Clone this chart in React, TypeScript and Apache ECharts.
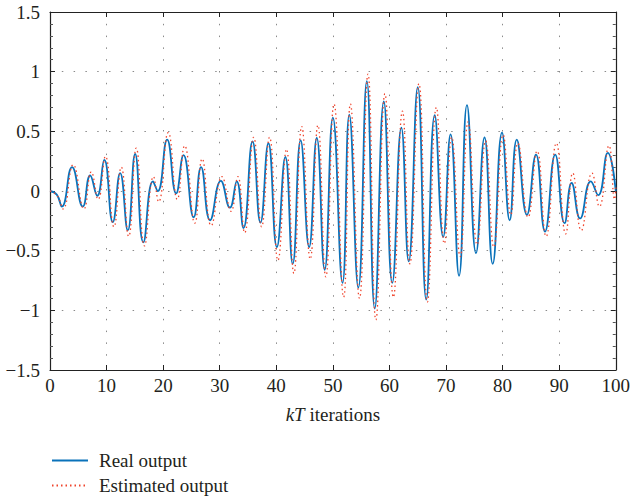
import React, { useEffect, useRef } from "react";
import * as echarts from "echarts";

// Real output: extrema
const xReal = [0, 1.2, 2.1, 3.9, 5.8, 7.1, 8.35, 9.6, 11.1, 12.4, 13.75, 15.05, 16.5, 18.2, 19.05, 20.7, 22.3, 23.6, 25.4, 26.7, 28.3, 30.2, 31.8, 33.0, 34.2, 35.8, 37.2, 38.6, 40.1, 41.6, 42.9, 44.3, 45.8, 47.15, 48.55, 50.0, 51.7, 52.9, 54.5, 56.0, 57.4, 59.0, 60.5, 62.1, 63.4, 65.0, 66.5, 68.0, 69.5, 70.8, 72.3, 73.7, 75.3, 76.8, 78.25, 79.9, 81.25, 82.5, 84.3, 85.9, 87.5, 89.3, 90.95, 92.2, 93.7, 95.6, 96.9, 98.6, 100];
const yReal = [0, -0.03, -0.13, 0.2, -0.13, 0.13, -0.04, 0.26, -0.26, 0.15, -0.33, 0.31, -0.43, 0.08, 0.0, 0.43, -0.02, 0.3, -0.22, 0.2, -0.245, 0.085, -0.14, 0.08, -0.31, 0.415, -0.265, 0.4, -0.47, 0.285, -0.61, 0.425, -0.47, 0.445, -0.66, 0.615, -0.77, 0.64, -0.81, 0.92, -0.985, 0.75, -0.77, 0.53, -0.59, 0.87, -0.91, 0.635, -0.385, 0.475, -0.71, 0.72, -0.52, 0.45, -0.61, 0.49, -0.245, 0.43, -0.2, 0.305, -0.34, 0.305, -0.27, 0.067, -0.23, 0.08, -0.035, 0.32, 0.0];

// Estimated output
const xEst = [0, 1.3, 2.3, 4.1, 6.0, 7.3, 8.5, 9.8, 11.3, 12.6, 13.9, 15.25, 16.7, 18.3, 19.2, 20.9, 22.5, 23.8, 25.6, 26.9, 28.5, 30.4, 32.0, 33.2, 34.4, 36.0, 37.4, 38.8, 40.3, 41.8, 43.1, 44.5, 46.0, 47.35, 48.75, 50.2, 51.9, 53.1, 54.7, 56.2, 57.6, 59.2, 60.7, 62.3, 63.6, 65.2, 66.7, 68.3, 69.7, 71.0, 72.5, 73.9, 75.5, 77.0, 78.45, 80.1, 81.45, 82.7, 84.5, 86.1, 87.7, 89.5, 91.15, 92.4, 93.9, 95.8, 97.1, 98.8, 99.8, 100];
const yEst = [0, -0.04, -0.15, 0.22, -0.15, 0.16, -0.07, 0.29, -0.3, 0.2, -0.38, 0.36, -0.46, 0.12, -0.09, 0.49, -0.07, 0.38, -0.27, 0.27, -0.29, 0.12, -0.17, 0.12, -0.35, 0.45, -0.3, 0.45, -0.58, 0.35, -0.69, 0.54, -0.57, 0.55, -0.72, 0.73, -0.89, 0.73, -0.9, 0.98, -1.08, 0.815, -0.89, 0.67, -0.61, 0.9, -0.93, 0.7, -0.44, 0.45, -0.55, 0.58, -0.45, 0.42, -0.47, 0.47, -0.2, 0.4, -0.22, 0.335, -0.38, 0.4, -0.36, 0.15, -0.33, 0.15, -0.13, 0.38, -0.07, 0.03];

const seriesNames = ["Real output", "Estimated output"];

const FONT = "Liberation Serif, DejaVu Serif, serif";
const TXT = "#231f20";
const FS = 19;

export default function App() {
  const ref = useRef<HTMLDivElement>(null);
  useEffect(() => {
    if (!ref.current) return;
    const chart = echarts.init(ref.current, undefined, { renderer: "svg" });
    const gridLine = { show: true, lineStyle: { color: "#8a8a8a", width: 1, type: [1.5, 10.3] as any } };
    const yFmt = (v: number) => (v < 0 ? "\u2212" + Math.abs(v) : String(v));
    const axLine = { show: true, onZero: false, lineStyle: { color: "#222", width: 1.2 } };
    const tick = { show: true, inside: true, length: 5, lineStyle: { color: "#222" } };
    chart.setOption({
      animation: false,
      backgroundColor: "#fff",
      textStyle: { fontFamily: FONT },
      grid: { left: 50, right: 15, top: 12, bottom: 130, containLabel: false },
      legend: {
        orient: "vertical",
        left: 46,
        top: 446,
        height: 60,
        itemWidth: 36,
        itemHeight: 14,
        itemGap: 6,
        itemStyle: { color: "rgba(0,0,0,0)", borderColor: "rgba(0,0,0,0)", borderWidth: 0, opacity: 0 },
        textStyle: { fontFamily: FONT, fontSize: FS, color: TXT, padding: [0, 0, 0, 6] },
        data: seriesNames,
      },
      xAxis: [
        {
          type: "value",
          min: 0,
          max: 100,
          interval: 10,
          name: "{i|kT} iterations",
          nameLocation: "middle",
          nameGap: 35,
          nameTextStyle: {
            fontFamily: FONT,
            fontSize: FS,
            color: TXT,
            rich: { i: { fontStyle: "italic", fontFamily: FONT, fontSize: FS, color: TXT } },
          },
          axisLine: axLine,
          axisTick: tick,
          axisLabel: { fontFamily: FONT, fontSize: FS, color: TXT, margin: 6 },
          splitLine: gridLine,
        },
        {
          type: "value",
          position: "top",
          min: 0,
          max: 100,
          interval: 10,
          axisLine: axLine,
          axisTick: tick,
          axisLabel: { show: false },
          splitLine: { show: false },
        },
      ],
      yAxis: [
        {
          type: "value",
          min: -1.5,
          max: 1.5,
          interval: 0.5,
          axisLine: axLine,
          axisTick: tick,
          minorTick: { show: true, splitNumber: 5, length: 3, lineStyle: { color: "#555" } },
          axisLabel: { fontFamily: FONT, fontSize: FS, color: TXT, margin: 10, formatter: yFmt },
          splitLine: gridLine,
        },
        {
          type: "value",
          position: "right",
          min: -1.5,
          max: 1.5,
          interval: 0.5,
          axisLine: axLine,
          axisTick: tick,
          minorTick: { show: true, splitNumber: 5, length: 3, lineStyle: { color: "#555" } },
          axisLabel: { show: false },
          splitLine: { show: false },
        },
      ],
      series: [
        {
          name: seriesNames[0],
          type: "line",
          smooth: 0.5,
          symbol: "none",
          lineStyle: { color: "#0a72ba", width: 1.8 },
          itemStyle: { color: "#0a72ba" },
          data: xReal.map((x, i) => [x, yReal[i]]),
          z: 3,
        },
        {
          name: seriesNames[1],
          type: "line",
          smooth: 0.5,
          symbol: "none",
          lineStyle: { color: "#f0442c", width: 1.3, type: [1.5, 3] as any },
          itemStyle: { color: "#f0442c" },
          data: xEst.map((x, i) => [x, yEst[i]]),
          z: 4,
        },
      ],
    });
    return () => chart.dispose();
  }, []);
  return <div ref={ref} style={{ width: 633, height: 500, position: "absolute", left: 0, top: 0 }} />;
}
